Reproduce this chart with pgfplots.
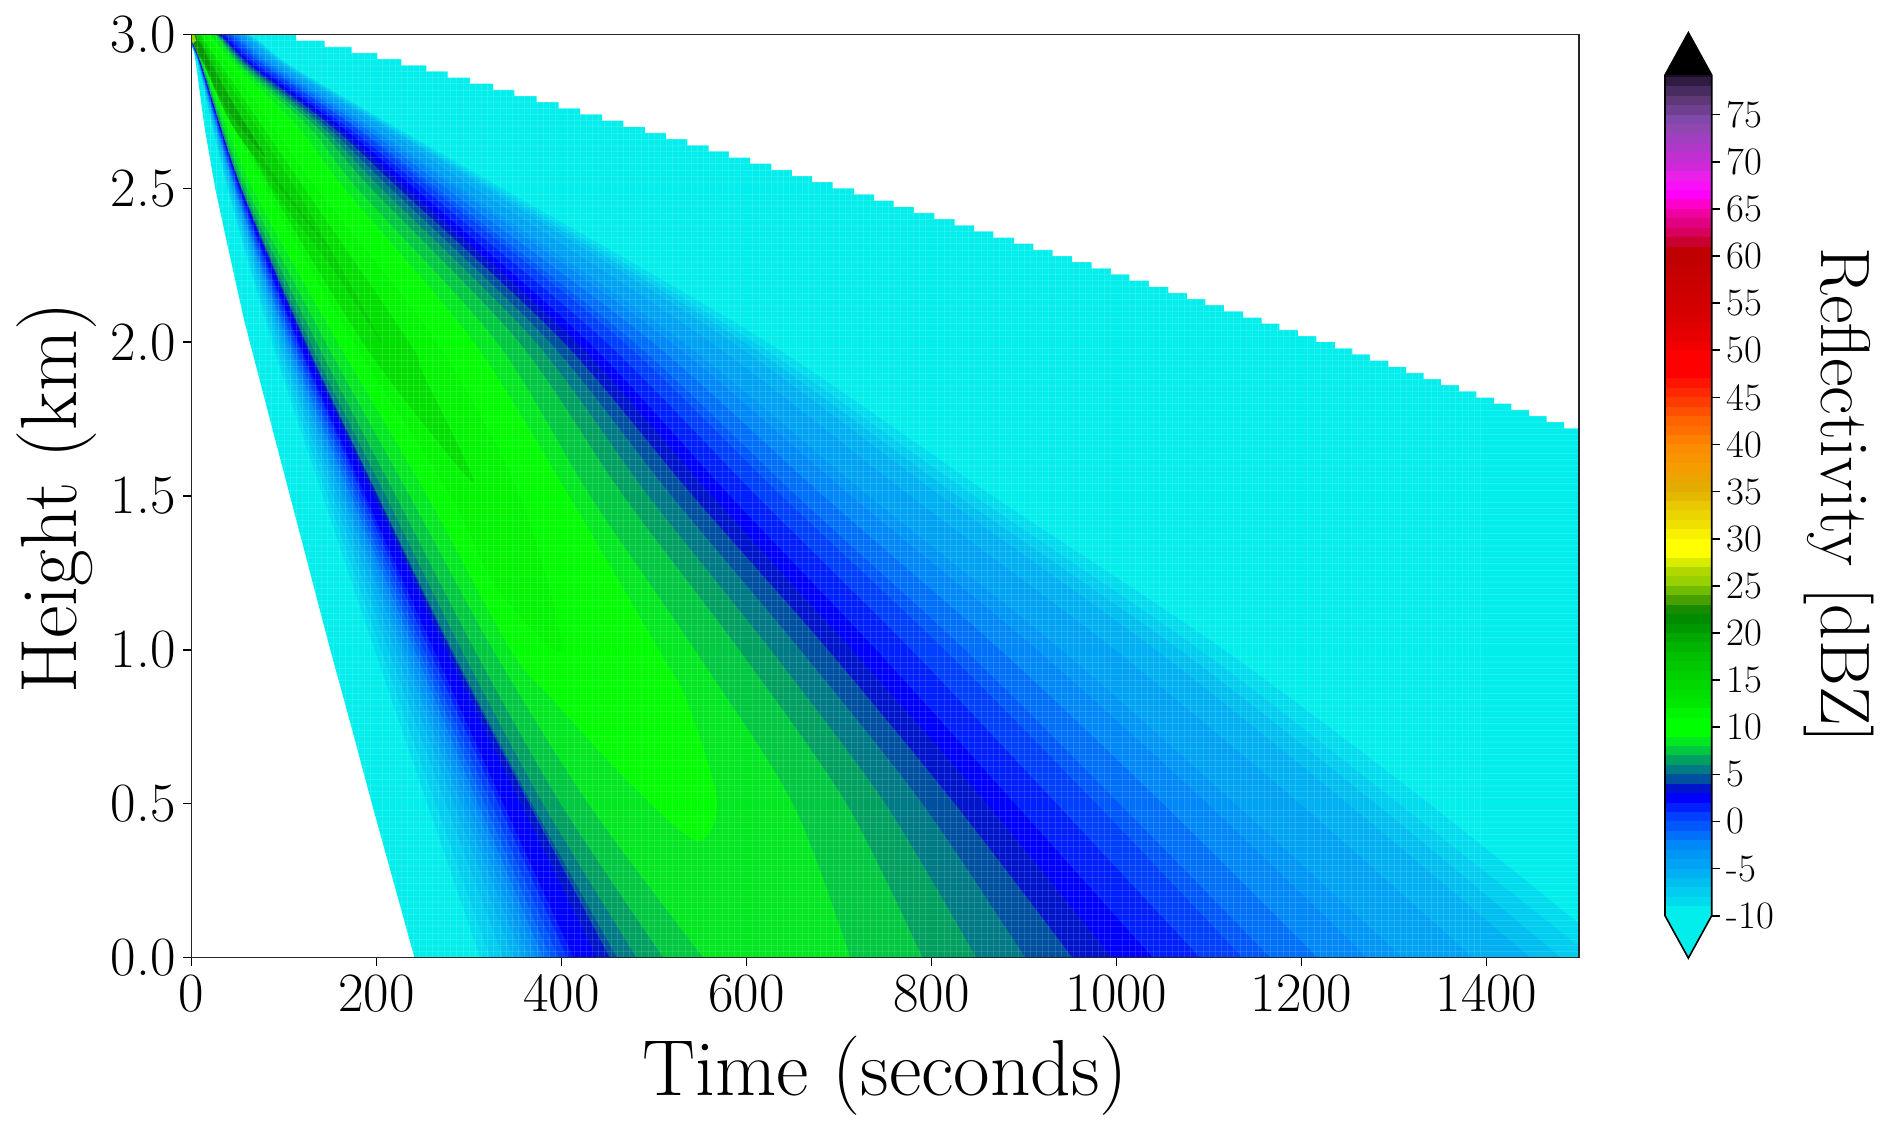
\documentclass[border=0pt]{standalone}
\usepackage{pgfplots}
\pgfplotsset{compat=1.18}
\newcommand{\dc}[2]{\definecolor{c#1}{HTML}{#2}}
\dc{-10}{02EEEC}\dc{-9}{00DCEE}\dc{-8}{00CDEF}\dc{-7}{00BEF0}\dc{-6}{00B0F2}\dc{-5}{00A2F4}\dc{-4}{0096F6}\dc{-3}{0088F8}\dc{-2}{0070FA}\dc{-1}{0058FC}
\dc{0}{0040FE}\dc{1}{0020FF}\dc{2}{0000FF}\dc{3}{0014CC}\dc{4}{0050A0}\dc{5}{007A85}\dc{6}{00A060}\dc{7}{00C840}\dc{8}{00E820}\dc{9}{00FF00}
\dc{10}{00FF00}\dc{11}{00F500}\dc{12}{00E800}\dc{13}{00E000}\dc{14}{00D800}\dc{15}{00D000}\dc{16}{00C800}\dc{17}{00C000}\dc{18}{00B400}\dc{19}{00A800}
\dc{20}{009800}\dc{21}{008C00}\dc{22}{188C00}\dc{23}{48A000}\dc{24}{70BC00}\dc{25}{98D000}\dc{26}{B0D800}\dc{27}{D8EC00}\dc{28}{FFFF00}\dc{29}{FFFF00}
\dc{30}{F8F000}\dc{31}{F0E000}\dc{32}{ECD400}\dc{33}{E8C800}\dc{34}{E4B800}\dc{35}{E4AC00}\dc{36}{ECA400}\dc{37}{F49C00}\dc{38}{F89400}\dc{39}{FC8C00}
\dc{40}{FF8000}\dc{41}{FF7000}\dc{42}{FF6400}\dc{43}{FF5000}\dc{44}{FF3C00}\dc{45}{FF2800}\dc{46}{FF1400}\dc{47}{FF0000}\dc{48}{FF0000}\dc{49}{FF0000}
\dc{50}{F00000}\dc{51}{E80000}\dc{52}{E00000}\dc{53}{D80000}\dc{54}{D40000}\dc{55}{D00000}\dc{56}{CC0000}\dc{57}{C80000}\dc{58}{C40000}\dc{59}{C00000}
\dc{60}{C00000}\dc{61}{C80030}\dc{62}{D8005C}\dc{63}{E00080}\dc{64}{F000A0}\dc{65}{FF00CC}\dc{66}{FF00FF}\dc{67}{F810F8}\dc{68}{E820E8}\dc{69}{D028D8}
\dc{70}{C030D0}\dc{71}{B038C8}\dc{72}{A040C0}\dc{73}{9048B0}\dc{74}{8048A8}\dc{75}{704090}\dc{76}{603878}\dc{77}{482C60}\dc{78}{301C40}\dc{79}{1A0E24}
\newcommand{\bandL}[1]{\addplot[fill=c#1,draw=none,smooth,tension=.5]}
\newcommand{\rows}[8]{(#1,0)(#2,.5)(#3,1)(#4,1.5)(#5,2)(#6,2.5)(#7,2.9)(0,3)(#8,3)}
\newcommand{\back}[8]{(#8,2.9)(#1,2.7)(#2,2.5)(#3,2)(#4,1.5)(#5,1)(#6,.5)(#7,0)}
\newcommand{\lev}[3]{\bandL{#1} coordinates {#2 #3} -- cycle;}
\newcommand{\seg}[3]{\addplot[fill=c#1,draw=none] coordinates {(0,#2)(1,#2)(1,#3)(0,#3)} -- cycle;}
\begin{document}
\begin{tikzpicture}[x=1pt,y=1pt]
\useasboundingbox (0,0) rectangle (946,566);
\begin{axis}[
  at={(95.75pt,87.25pt)},anchor=south west,scale only axis,width=693.75pt,height=461.5pt,
  xmin=0,xmax=1500,ymin=0,ymax=3,
  xtick={0,200,400,600,800,1000,1200,1400},ytick={0,0.5,1,1.5,2,2.5,3},
  xticklabels={0,200,400,600,800,1000,1200,1400},yticklabels={0.0,0.5,1.0,1.5,2.0,2.5,3.0},
  tick align=outside,xtick pos=bottom,ytick pos=left,major tick length=4pt,minor tick length=0pt,
  minor x tick num=29,minor y tick num=24,
  grid=minor,minor grid style={white,opacity=.13,line width=.3pt},
  axis line style={line width=.8pt,black!85},tick style={line width=.8pt,black},
  tick label style={font=\fontsize{27.7}{27.7}\selectfont},
  xticklabel style={yshift=-1pt},yticklabel style={xshift=-.5pt},
  axis on top,
  xlabel={Time (seconds)},ylabel={Height (km)},
  every axis x label/.style={at={(axis description cs:0.5,-0.128)},anchor=center,font=\fontsize{39.7}{39.7}\selectfont},
  every axis y label/.style={at={(axis description cs:-0.097,0.498)},anchor=center,rotate=90,font=\fontsize{39.9}{39.9}\selectfont},
]
\addplot[fill=c-10,draw=none] coordinates {(241,0)(218,.25)(195,.5)(171,.77)(150,1)(117,1.38)(89,1.7)(57,2.07)(40,2.3)(25.6,2.5)(14,2.7)(5,2.9)(0,3)
(113,3)(113,2.98)(144,2.98)(144,2.96)(173,2.96)(173,2.94)(201,2.94)(201,2.92)(227,2.92)(227,2.90)(254,2.90)(254,2.88)(277,2.88)(277,2.86)(301,2.86)(301,2.84)(326,2.84)(326,2.82)(349,2.82)(349,2.80)(373,2.80)(373,2.78)(397,2.78)(397,2.76)
(420,2.76)(420,2.74)(444,2.74)(444,2.72)(467,2.72)(467,2.70)(490,2.70)(490,2.68)(513,2.68)(513,2.66)(536,2.66)(536,2.64)(559,2.64)(559,2.62)(581,2.62)(581,2.60)(604,2.60)(604,2.58)(627,2.58)(627,2.56)(649,2.56)(649,2.54)(671,2.54)(671,2.52)(693,2.52)(693,2.50)(716,2.50)(716,2.48)(738,2.48)(738,2.46)(759,2.46)(759,2.44)(781,2.44)(781,2.42)(803,2.42)(803,2.40)(825,2.40)(825,2.38)(846,2.38)(846,2.36)(867,2.36)(867,2.34)(889,2.34)(889,2.32)(910,2.32)(910,2.30)(931,2.30)(931,2.28)(952,2.28)(952,2.26)(973,2.26)(973,2.24)(994,2.24)(994,2.22)(1014,2.22)(1014,2.20)(1035,2.20)(1035,2.18)(1056,2.18)(1056,2.16)(1076,2.16)(1076,2.14)(1096,2.14)(1096,2.12)(1116,2.12)(1116,2.10)(1137,2.10)(1137,2.08)(1157,2.08)(1157,2.06)(1176,2.06)(1176,2.04)(1196,2.04)(1196,2.02)(1216,2.02)(1216,2.00)(1236,2.00)(1236,1.98)(1255,1.98)(1255,1.96)(1274,1.96)(1274,1.94)(1294,1.94)(1294,1.92)(1313,1.92)(1313,1.90)(1332,1.90)(1332,1.88)(1351,1.88)(1351,1.86)(1370,1.86)(1370,1.84)(1389,1.84)(1389,1.82)(1408,1.82)(1408,1.80)(1427,1.80)(1427,1.78)(1446,1.78)(1446,1.76)(1465,1.76)(1465,1.74)(1484,1.74)(1484,1.72)(1500,1.72)(1500,0)} -- cycle;
\lev{-9}{\rows{312}{255}{198}{142}{87}{39}{7.5}{60}}{\back{220}{336}{622}{866}{1116}{1338}{1545}{106}}
\lev{-8}{\rows{323}{264}{205}{147}{90}{40}{7.8}{59}}{\back{217}{330}{608}{846}{1090}{1305}{1515}{105}}
\lev{-7}{\rows{337}{275}{213}{153}{94}{42}{8}{57}}{\back{213}{324}{597}{828}{1068}{1280}{1480}{102}}
\lev{-6}{\rows{348}{284}{220}{158}{97}{43.5}{8.4}{55}}{\back{210}{318}{584}{810}{1042}{1250}{1447}{100}}
\lev{-5}{\rows{358}{292}{227}{163}{100}{45}{8.6}{53}}{\back{204}{306}{561}{777}{998}{1198}{1385}{96}}
\lev{-4}{\rows{365}{298}{231}{166}{102}{46}{8.8}{50}}{\back{195}{291}{531}{732}{940}{1128}{1309}{91}}
\lev{-3}{\rows{373}{305}{236}{170}{104}{47}{9}{47}}{\back{191}{285}{518}{713}{914}{1098}{1271}{88}}
\lev{-2}{\rows{380}{310}{241}{173}{106}{47.5}{9.1}{44}}{\back{185}{275}{498}{683}{874}{1050}{1217}{84}}
\lev{-1}{\rows{388}{317}{246}{177}{109}{48.5}{9.3}{41}}{\back{178}{265}{478}{654}{836}{1003}{1166}{80}}
\lev{0}{\rows{397}{324}{251}{181}{111}{50}{9.5}{38}}{\back{175}{259}{467}{638}{814}{978}{1136}{77}}
\lev{1}{\rows{406}{332}{257}{185}{114}{51}{9.7}{35}}{\back{168}{250}{448}{611}{778}{935}{1090}{72}}
\lev{2}{\rows{413}{337}{262}{188}{116}{52}{10}{32}}{\back{162}{241}{429}{582}{740}{890}{1039}{68}}
\lev{3}{\rows{438}{356}{275}{197}{121}{53}{10.5}{30}}{\back{157}{233}{416}{563}{714}{860}{995}{65}}
\lev{4}{\rows{452}{365}{280}{201}{123}{54}{11}{29}}{\back{152}{224}{402}{542}{688}{825}{952}{63}}
\lev{5}{\rows{460}{368}{282}{202}{124}{54}{11}{28}}{\back{146}{215}{387}{519}{658}{790}{901}{60}}
\lev{6}{\rows{481}{380}{292}{210}{128}{54.5}{11}{27}}{\back{141}{205}{372}{494}{626}{750}{848}{58}}
\lev{7}{\rows{510}{399}{306}{221}{135}{56.5}{12}{26}}{\back{135}{194}{354}{467}{592}{708}{790}{55}}
\lev{8}{\rows{553}{429}{326}{236}{145}{60}{12}{25}}{\back{127}{179}{330}{431}{544}{650}{712}{52}}
% closed contours of the core
\addplot[fill=c9,draw=none,smooth,tension=.5] coordinates {(0,3)(13,2.9)(66,2.5)(158,2)(255,1.5)(345,1)(391,.837)(474,.566)(546,.38)(568,.51)(535,.837)(505,1)(408,1.5)(305,2)(165,2.5)(115,2.7)(48,2.9)(20,3)} -- cycle;
\addplot[fill=c11,draw=none,smooth,tension=.5] coordinates {(0,3)(13,2.9)(80,2.5)(175,2)(280,1.5)(330,1.2)(400,1)(355,1.5)(265,2)(135,2.5)(88,2.7)(40,2.9)(15,3)} -- cycle;
\addplot[fill=c13,draw=none,smooth,tension=.5] coordinates {(0,3)(14,2.9)(85,2.5)(185,2)(260,1.7)(305,1.55)(250,1.9)(235,2)(122,2.5)(32,2.9)(10,3)} -- cycle;
\addplot[fill=c15,draw=none,smooth,tension=.5] coordinates {(0,3)(14,2.9)(88,2.5)(150,2.25)(205,2)(160,2.25)(112,2.5)(28,2.9)(8,3)} -- cycle;
\addplot[fill=c17,draw=none,smooth,tension=.5] coordinates {(0,3)(14,2.9)(45,2.7)(95,2.5)(150,2.3)(100,2.5)(55,2.7)(24,2.9)(6,3)} -- cycle;
\addplot[fill=c19,draw=none,smooth,tension=.5] coordinates {(0,3)(14,2.9)(40,2.75)(80,2.6)(50,2.75)(22,2.9)(4,3)} -- cycle;
\addplot[fill=c20,draw=none] coordinates {(0,3)(6,2.95)(25,2.85)(14,2.95)(3,3)} -- cycle;
\addplot[fill=c22,draw=none] coordinates {(0,3)(3,2.96)(10,2.92)(8,2.96)(2,3)} -- cycle;
\addplot[fill=c25,draw=none] coordinates {(0,3)(1,2.97)(5,2.98)(3,3)} -- cycle;
\end{axis}
\begin{axis}[
  at={(832.5pt,108.15pt)},anchor=south west,scale only axis,width=23.35pt,height=420.35pt,
  xmin=0,xmax=1,ymin=-10,ymax=79.2,clip=false,
  xtick=\empty,ytick={-10,-5,0,5,10,15,20,25,30,35,40,45,50,55,60,65,70,75},
  yticklabels={-10,-5,0,5,10,15,20,25,30,35,40,45,50,55,60,65,70,75},
  ytick pos=right,tick align=outside,major tick length=4pt,tick style={line width=.8pt,black},
  axis line style={draw=none},
  tick label style={font=\fontsize{19.4}{19.4}\selectfont},
  ylabel={Reflectivity [dBZ]},
  every axis y label/.style={at={(axis description cs:3.72,0.5)},anchor=center,rotate=-90,font=\fontsize{35}{35}\selectfont},
]
\addplot[fill=c-10,draw=none] coordinates {(0,-10)(.5,-14.5)(1,-10)} -- cycle;
\addplot[fill=black,draw=none] coordinates {(0,79.2)(.5,83.7)(1,79.2)} -- cycle;
\seg{-10}{-10}{-9}\seg{-9}{-9}{-8}\seg{-8}{-8}{-7}\seg{-7}{-7}{-6}\seg{-6}{-6}{-5}\seg{-5}{-5}{-4}\seg{-4}{-4}{-3}\seg{-3}{-3}{-2}\seg{-2}{-2}{-1}\seg{-1}{-1}{0}
\seg{0}{0}{1}\seg{1}{1}{2}\seg{2}{2}{3}\seg{3}{3}{4}\seg{4}{4}{5}\seg{5}{5}{6}\seg{6}{6}{7}\seg{7}{7}{8}\seg{8}{8}{9}\seg{9}{9}{10}
\seg{10}{10}{11}\seg{11}{11}{12}\seg{12}{12}{13}\seg{13}{13}{14}\seg{14}{14}{15}\seg{15}{15}{16}\seg{16}{16}{17}\seg{17}{17}{18}\seg{18}{18}{19}\seg{19}{19}{20}
\seg{20}{20}{21}\seg{21}{21}{22}\seg{22}{22}{23}\seg{23}{23}{24}\seg{24}{24}{25}\seg{25}{25}{26}\seg{26}{26}{27}\seg{27}{27}{28}\seg{28}{28}{29}\seg{29}{29}{30}
\seg{30}{30}{31}\seg{31}{31}{32}\seg{32}{32}{33}\seg{33}{33}{34}\seg{34}{34}{35}\seg{35}{35}{36}\seg{36}{36}{37}\seg{37}{37}{38}\seg{38}{38}{39}\seg{39}{39}{40}
\seg{40}{40}{41}\seg{41}{41}{42}\seg{42}{42}{43}\seg{43}{43}{44}\seg{44}{44}{45}\seg{45}{45}{46}\seg{46}{46}{47}\seg{47}{47}{48}\seg{48}{48}{49}\seg{49}{49}{50}
\seg{50}{50}{51}\seg{51}{51}{52}\seg{52}{52}{53}\seg{53}{53}{54}\seg{54}{54}{55}\seg{55}{55}{56}\seg{56}{56}{57}\seg{57}{57}{58}\seg{58}{58}{59}\seg{59}{59}{60}
\seg{60}{60}{61}\seg{61}{61}{62}\seg{62}{62}{63}\seg{63}{63}{64}\seg{64}{64}{65}\seg{65}{65}{66}\seg{66}{66}{67}\seg{67}{67}{68}\seg{68}{68}{69}\seg{69}{69}{70}
\seg{70}{70}{71}\seg{71}{71}{72}\seg{72}{72}{73}\seg{73}{73}{74}\seg{74}{74}{75}\seg{75}{75}{76}\seg{76}{76}{77}\seg{77}{77}{78}\seg{78}{78}{79}\seg{79}{79}{79.2}
\addplot[draw=black,line width=.8pt,fill=none] coordinates {(0,-10)(.5,-14.5)(1,-10)(1,79.2)(.5,83.7)(0,79.2)} -- cycle;
\end{axis}
\end{tikzpicture}
\end{document}
